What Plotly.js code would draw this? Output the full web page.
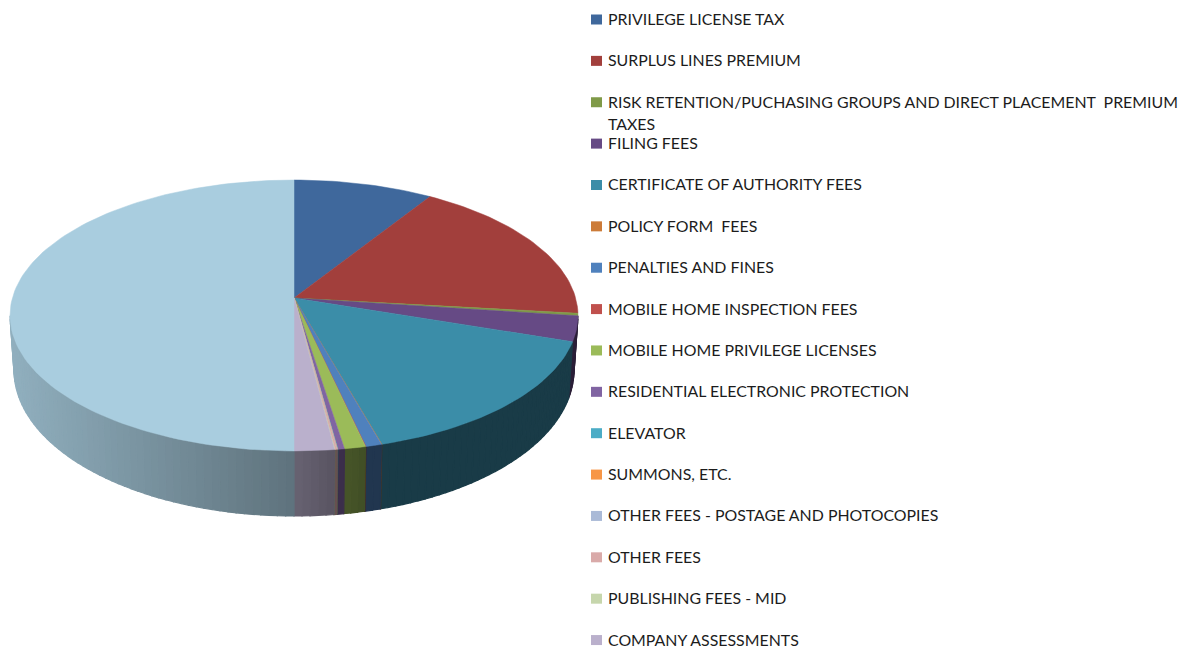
<!DOCTYPE html>
<html><head><meta charset="utf-8">
<script src="https://cdn.plot.ly/plotly-3.0.1.min.js"></script>
<style>html,body{margin:0;padding:0;background:#fff}#c{width:1182px;height:647px}</style>
</head><body><div id="c"></div>
<script>
// The final large slice has no legend row in the reference (the legend is cut off)
const categories = ["PRIVILEGE LICENSE TAX","SURPLUS LINES PREMIUM","RISK RETENTION/PUCHASING GROUPS AND DIRECT PLACEMENT  PREMIUM<br>TAXES","FILING FEES","CERTIFICATE OF AUTHORITY FEES","POLICY FORM  FEES","PENALTIES AND FINES","MOBILE HOME INSPECTION FEES","MOBILE HOME PRIVILEGE LICENSES","RESIDENTIAL ELECTRONIC PROTECTION","ELEVATOR","SUMMONS, ETC.","OTHER FEES - POSTAGE AND PHOTOCOPIES","OTHER FEES","PUBLISHING FEES - MID","COMPANY ASSESSMENTS",""];
const values = [9.0,17.8,0.3,3.0,15.5,0.02,0.8,0.02,1.06,0.33,0.02,0.01,0.02,0.1,0.02,2.0,50.0];
const colors = ["#3F689C","#A23F3C","#7F9A48","#664A85","#3B8DA8","#CC7B38","#4F81BD","#C0504D","#9BBB59","#8064A2","#4BACC6","#F79646","#AABAD7","#D9AAA9","#C6D6AC","#BAB0CC","#A9CDDF"];

// projection of the tilted disc
const CX=294, APEX=298, A=281.6, B=133.2, K=0.129;
const BOT={cx:294,cy:370,rx:280,ry:146}, TOPCY=316, TOPRX=284;
function faceAt(t){const u=Math.sin(t),v=Math.cos(t),w=1+K*v;return [CX+A*u/w, APEX-B*v/w];}
function rimAt(p){const n=Math.min(1,Math.abs(p[0]-CX)/TOPRX);
  return [BOT.cx+(p[0]-CX)*BOT.rx/TOPRX, BOT.cy+BOT.ry*Math.sqrt(1-n*n)];}
function shade(x){ // side wall lighting falls from left to right
  if(x<293) return 0.85-(x-14)/(293-14)*0.29;
  return Math.max(0.42,0.56-(x-293)/70*0.14);
}
function mix(hex,f){const n=parseInt(hex.slice(1),16);
  return `rgb(${Math.round((n>>16&255)*f)},${Math.round((n>>8&255)*f)},${Math.round((n&255)*f)})`;}

const total=values.reduce((a,b)=>a+b,0);
const wallTraces=[], faceTraces=[];
let cum=0;
values.forEach((val,i)=>{
  const t0=cum/total*2*Math.PI; cum+=val; const t1=cum/total*2*Math.PI;
  const steps=Math.max(1,Math.ceil((t1-t0)/(Math.PI/120)));
  const xs=[CX],ys=[APEX];
  for(let s=0;s<=steps;s++){const p=faceAt(t0+(t1-t0)*s/steps);xs.push(p[0]);ys.push(p[1]);}
  xs.push(CX);ys.push(APEX);
  faceTraces.push({type:'scatter',mode:'lines',x:xs,y:ys,fill:'toself',fillcolor:colors[i],
    line:{color:colors[i],width:0.5},name:categories[i].replace('<br>',' '),showlegend:false,hoverinfo:'name'});
  for(let s=0;s<steps;s++){
    const a=faceAt(t0+(t1-t0)*s/steps), b=faceAt(t0+(t1-t0)*(s+1)/steps);
    if(a[1]<TOPCY && b[1]<TOPCY) continue;
    const ba=rimAt(a), bb=rimAt(b), col=mix(colors[i],shade((a[0]+b[0])/2));
    wallTraces.push({type:'scatter',mode:'lines',x:[a[0],b[0],bb[0],ba[0],a[0]],y:[a[1],b[1],bb[1],ba[1],a[1]],
      fill:'toself',fillcolor:col,line:{color:col,width:1.2},showlegend:false,hoverinfo:'skip'});
  }
});

const LEG={x0:591,x1:602,text:608,y0:19.5,dy:41.37,h:5,lh:22.5};
const shapes=[],annotations=[];
categories.forEach((c,i)=>{
  if(!c) return;
  const y=LEG.y0+LEG.dy*i;
  shapes.push({type:'rect',xref:'x',yref:'y',x0:LEG.x0,x1:LEG.x1,y0:y-LEG.h,y1:y+LEG.h,fillcolor:colors[i],line:{width:0}});
  c.split('<br>').forEach((ln,j)=>annotations.push({xref:'x',yref:'y',x:LEG.text,y:y+j*LEG.lh-1,text:ln,showarrow:false,
    xanchor:'left',yanchor:'middle',align:'left',borderpad:0,xshift:-1,font:{family:'Lato, sans-serif',size:15.9,color:'#1c1c1c'}}));
});

Plotly.newPlot('c',[...wallTraces,...faceTraces],{
  width:1182,height:647,margin:{l:0,r:0,t:0,b:0},paper_bgcolor:'#fff',plot_bgcolor:'#fff',showlegend:false,
  xaxis:{range:[0,1182],visible:false,fixedrange:true},
  yaxis:{range:[647,0],visible:false,fixedrange:true},
  shapes,annotations
},{displayModeBar:false,staticPlot:true});
</script></body></html>
